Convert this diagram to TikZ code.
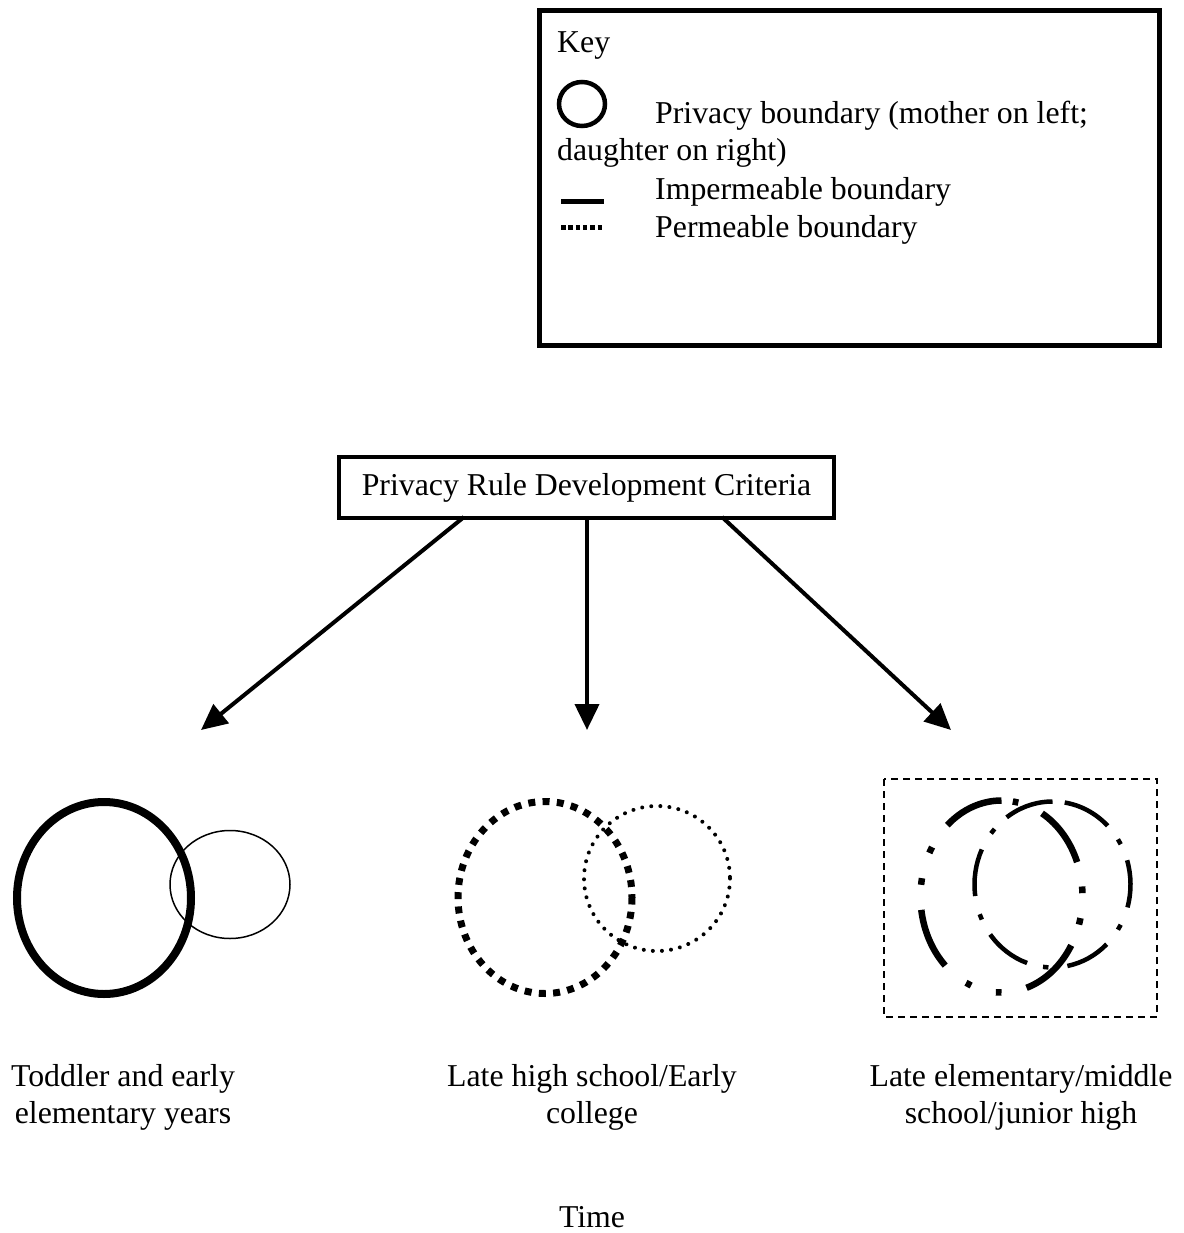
\documentclass[tikz,border=0pt]{standalone}
\usepackage{fontspec}
\setmainfont{Liberation Serif}
\usetikzlibrary{arrows.meta}
\begin{document}
\begin{tikzpicture}[x=1pt,y=-1pt,
  txt/.style={inner sep=0pt,font=\fontsize{31.8}{36.5}\selectfont},
  lbl/.style={txt,align=center,anchor=base},
  arr/.style={line width=4pt,-{Triangle[length=26pt,width=24pt]}},
  bigdd/.style={line width=6.5pt},
  smalldd/.style={line width=4.5pt}]
\useasboundingbox (0,0) rectangle (1183,1233);
% key box
\draw[line width=5pt] (539.5,10.5) rectangle (1159.5,345);
\node[txt,anchor=base west] (keyt) at (557,53) {Key};
\draw[line width=4.5pt] (582,104) ellipse[x radius=23, y radius=22];
\node[txt,anchor=base west] (k1) at (655,124) {Privacy boundary (mother on left;};
\node[txt,anchor=base west] (k2) at (557,161) {daughter on right)};
\node[txt,anchor=base west] (k3) at (655,200) {Impermeable boundary};
\node[txt,anchor=base west] (k4) at (655,238) {Permeable boundary};
\draw[line width=5pt] (561,202) -- (604,202);
\draw[line width=5pt,dash pattern=on 4.5pt off 2.8pt] (561,228) -- (603,228);
% title
\node[txt,draw,line width=4pt,minimum width=495pt,minimum height=61pt] (title) at (586.5,487.5) {Privacy Rule Development Criteria};
\coordinate (a1) at (201,730);
\coordinate (a2) at (587,730);
\coordinate (a3) at (951,730);
\coordinate (s1) at (464,517);
\coordinate (s2) at (587,517);
\coordinate (s3) at (722,517);
\draw[arr] (s1) -- (a1);
\draw[arr] (s2) -- (a2);
\draw[arr] (s3) -- (a3);
% left circles
\draw[line width=8pt] (104,898) ellipse[x radius=87, y radius=96];
\draw[line width=1.5pt] (230,884.5) ellipse[x radius=60, y radius=54];
% middle circles
\draw[line width=7pt,dash pattern=on 7pt off 7.3pt] (545,897.5) ellipse[x radius=87, y radius=96];
\draw[line width=4pt,line cap=round,dash pattern=on 0.01pt off 9.1pt] (657,878.5) ellipse[x radius=73, y radius=72.5];
% right group
\draw[line width=1.5pt,dash pattern=on 7pt off 5pt] (884,779) rectangle (1157,1017);
\foreach \a/\b in {30.6/72,134/172,228/270,300/339,-6/-2,13/17,90/94,112/116,187/191,207/211,278/282}
  \draw[bigdd] (1001.5,896.5) ++(\a:81 and 96) arc[start angle=\a,end angle=\b,x radius=81,y radius=96];
\foreach \a/\b in {234/270,279/315,343/376,46/79,109/143,172/205,327/331,29/33,93/97,155/159,218/222}
  \draw[smalldd] (1052.5,884.5) ++(\a:78 and 83) arc[start angle=\a,end angle=\b,x radius=78,y radius=83];
% labels
\node[lbl] (l1) at (123,1123) {Toddler and early\\elementary years};
\node[lbl] (l2) at (592,1123) {Late high school/Early\\college};
\node[lbl] (l3) at (1021,1123) {Late elementary/middle\\school/junior high};
\node[lbl] (time) at (592,1227) {Time};
\end{tikzpicture}
\end{document}
